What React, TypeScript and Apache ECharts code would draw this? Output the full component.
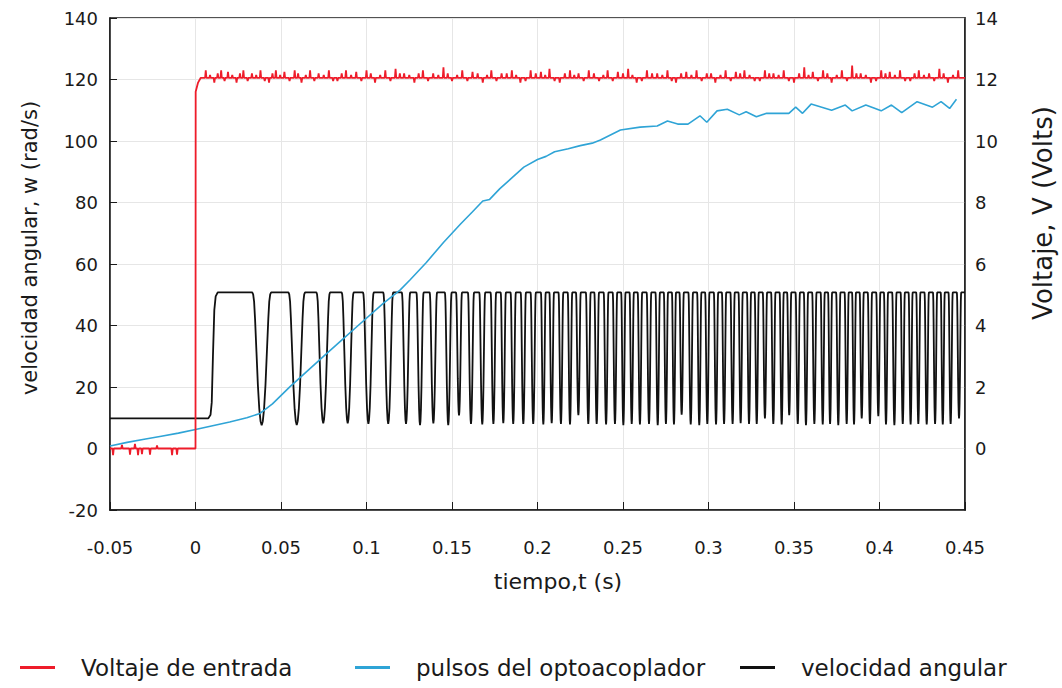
import React, { useEffect, useRef } from 'react';
import * as echarts from 'echarts';

// ---------- data ----------
const xMin = -0.05;
const xMax = 0.45;
const xStep = 0.05;
const leftMin = -20;
const leftMax = 140;
const leftStep = 20;
const rightMin = -2;
const rightMax = 14;
const rightStep = 2;

const legendNames = ['Voltaje de entrada', 'pulsos del optoacoplador', 'velocidad angular'];

// blue curve (left axis, rad/s)
const blueT = [
  -0.05, -0.04, -0.03, -0.02, -0.01, 0, 0.01, 0.02, 0.03, 0.0377, 0.045, 0.0553, 0.065, 0.0747,
  0.085, 0.0943, 0.1098, 0.1196, 0.1254, 0.135, 0.145, 0.155, 0.162, 0.168, 0.172, 0.178, 0.185,
  0.192, 0.2, 0.205, 0.21, 0.218, 0.225, 0.232, 0.2368, 0.2485, 0.26, 0.27, 0.276, 0.282, 0.288,
  0.295, 0.299, 0.305, 0.311, 0.318, 0.322, 0.328, 0.334, 0.347, 0.351, 0.355, 0.36, 0.372, 0.38,
  0.384, 0.392, 0.401, 0.407, 0.413, 0.422, 0.431, 0.436, 0.441, 0.445,
];
const blueV = [
  0.8, 2.0, 3.0, 4.0, 5.0, 6.2, 7.4, 8.6, 10.0, 11.4, 14.5, 20.1, 25.0, 29.9,
  35.0, 39.6, 47.2, 51.5, 54.8, 60.5, 67.0, 73.0, 77.0, 80.5, 81.0, 84.5, 88.0,
  91.5, 94.0, 95.0, 96.5, 97.5, 98.5, 99.3, 100.3, 103.6, 104.5, 104.9, 106.5, 105.5, 105.5,
  108.2, 106.1, 109.8, 110.3, 108.5, 109.5, 107.9, 109.0, 109.0, 111.0, 109.0, 112.0, 110.0, 111.7,
  109.8, 111.7, 109.8, 111.7, 109.2, 112.8, 111.0, 112.8, 110.6, 113.6,
];

// black pulse train (right axis, volts)
const blackBase = 0.98;
const blackHigh = 5.08;
const blackRiseT = [0.0075, 0.0088, 0.0095, 0.0102, 0.011, 0.0118, 0.013];
const blackRiseV = [0.98, 1.1, 1.5, 3.0, 4.5, 4.95, 5.08];
const dipT = [
  0.0387, 0.0592, 0.0747, 0.089, 0.1011, 0.1127, 0.1231, 0.1313, 0.1391, 0.1478,
  0.1541, 0.1611, 0.1677, 0.1742, 0.18, 0.1858, 0.1917, 0.1975, 0.2034, 0.2083,
  0.2137, 0.219, 0.2239, 0.2297, 0.2346, 0.2401, 0.2453, 0.2502, 0.2551, 0.2599,
  0.2652, 0.2703, 0.2751, 0.2798, 0.2843, 0.2896, 0.2946, 0.2993, 0.3044, 0.3091,
  0.3141, 0.3188, 0.3237, 0.3282, 0.333, 0.3379, 0.3428, 0.3472, 0.3522, 0.357,
  0.3619, 0.3668, 0.3711, 0.3759, 0.3808, 0.3851, 0.3896, 0.3944, 0.3993, 0.4038,
  0.4087, 0.4136, 0.4182, 0.4227, 0.4276, 0.4325, 0.437, 0.4416, 0.4465,
];
const dipMin = [
  0.76, 0.76, 0.82, 0.82, 0.8, 0.8, 0.8, 0.76, 0.82, 0.76,
  1.08, 0.8, 0.78, 0.8, 0.82, 0.8, 0.8, 0.8, 0.78, 0.82,
  0.8, 0.78, 1.08, 0.8, 0.8, 0.78, 0.8, 0.76, 0.8, 0.78,
  0.8, 0.76, 0.8, 0.78, 1.1, 0.78, 0.76, 0.8, 0.78, 0.8,
  0.8, 0.82, 0.8, 0.8, 0.98, 0.8, 0.78, 1.08, 0.8, 0.76,
  0.8, 0.78, 0.8, 0.76, 0.8, 0.78, 0.98, 0.8, 1.05, 0.78,
  0.76, 0.8, 0.78, 0.8, 0.78, 0.8, 0.78, 0.8, 0.98,
];

// red input voltage (right axis, volts)
const redLow = 0;
const redHigh = 12.05;
const redPreSpikeT = [-0.0482, -0.043, -0.0383, -0.0354, -0.0336, -0.0313, -0.0266, -0.0225, -0.0137, -0.0108];
const redPreSpikeV = [-0.22, 0.12, -0.2, 0.15, -0.22, -0.18, -0.2, 0.1, -0.22, -0.2];
const redStepT = [0, 0.0001, 0.0015, 0.003];
const redStepV = [0, 11.6, 11.9, 12.05];
const redSpikeT = [
  0.006, 0.0085, 0.011, 0.013, 0.015, 0.017, 0.019, 0.0215, 0.024, 0.026, 0.028, 0.0305, 0.033, 0.0355,
  0.038, 0.0405, 0.043, 0.045, 0.047, 0.0495, 0.052, 0.055, 0.058, 0.060, 0.062, 0.0645, 0.067, 0.0695,
  0.072, 0.075, 0.078, 0.0805, 0.083, 0.0855, 0.088, 0.091, 0.094, 0.097, 0.1, 0.1025, 0.105, 0.108,
  0.111, 0.114, 0.117, 0.1195, 0.122, 0.125, 0.128, 0.1305, 0.133, 0.136, 0.139, 0.142, 0.145, 0.1475,
  0.15, 0.153, 0.156, 0.159, 0.162, 0.165, 0.168, 0.1705, 0.173, 0.176, 0.179, 0.182, 0.185, 0.1875,
  0.19, 0.193, 0.196, 0.199, 0.202, 0.2045, 0.207, 0.21, 0.213, 0.216, 0.219, 0.2215, 0.224, 0.227,
  0.23, 0.233, 0.236, 0.2385, 0.241, 0.244, 0.247, 0.25, 0.253, 0.2555, 0.258, 0.261, 0.264, 0.267,
  0.27, 0.273, 0.276, 0.2785, 0.281, 0.284, 0.287, 0.29, 0.293, 0.296, 0.299, 0.3015, 0.304, 0.307,
  0.31, 0.313, 0.316, 0.3185, 0.321, 0.324, 0.327, 0.33, 0.333, 0.3355, 0.338, 0.341, 0.344, 0.347,
  0.35, 0.353, 0.356, 0.3585, 0.361, 0.364, 0.367, 0.3695, 0.372, 0.375, 0.378, 0.381, 0.384, 0.3865,
  0.389, 0.392, 0.395, 0.398, 0.401, 0.4035, 0.406, 0.409, 0.412, 0.415, 0.418, 0.4205, 0.423, 0.426,
  0.429, 0.432, 0.435, 0.4375, 0.44, 0.443, 0.446,
];
const redSpikeV = [
  12.3, 12.15, 11.9, 12.2, 12.3, 11.95, 12.25, 12.15, 11.9, 12.2, 12.3, 11.95, 12.2, 12.15,
  12.3, 11.95, 11.9, 12.2, 12.3, 12.15, 12.25, 11.95, 12.3, 12.2, 11.9, 12.15, 12.3, 11.95,
  12.2, 12.15, 12.3, 11.95, 11.95, 12.2, 12.3, 12.15, 12.25, 11.95, 12.3, 12.2, 11.9, 12.15,
  12.3, 11.95, 12.35, 12.2, 12.2, 12.15, 11.9, 12.2, 12.3, 11.95, 12.2, 12.15, 12.4, 12.2,
  11.95, 12.15, 12.3, 11.95, 12.25, 12.2, 11.9, 12.15, 12.3, 11.95, 12.2, 12.2, 12.3, 12.15,
  11.9, 11.95, 12.3, 12.2, 12.25, 12.15, 12.35, 11.95, 11.9, 12.2, 12.3, 12.15, 12.2, 11.95,
  12.3, 12.2, 11.95, 12.15, 12.3, 11.95, 12.25, 12.2, 12.35, 12.15, 11.9, 11.95, 12.3, 12.2,
  12.2, 12.15, 12.3, 11.95, 11.9, 12.2, 12.25, 12.15, 12.3, 11.95, 12.2, 12.2, 11.9, 12.15,
  12.3, 11.95, 12.25, 12.2, 12.3, 12.15, 11.95, 11.95, 12.3, 12.2, 12.2, 12.15, 12.3, 11.95,
  11.9, 12.2, 12.4, 12.15, 12.25, 11.95, 12.3, 12.2, 11.9, 12.15, 12.3, 11.95, 12.45, 12.2,
  12.2, 12.15, 11.9, 11.95, 12.3, 12.2, 12.25, 12.15, 12.3, 11.95, 11.95, 12.2, 12.3, 12.15,
  12.2, 11.95, 12.35, 12.2, 11.9, 12.15, 12.3,
];

// ---------- shape helpers (style only) ----------
const DIP_PROFILE: [number, number][] = [
  [-1, 1], [-0.9, 0.985], [-0.8, 0.93], [-0.7, 0.8], [-0.55, 0.55], [-0.4, 0.3], [-0.25, 0.12], [-0.12, 0.03],
  [0, 0], [0.12, 0.03], [0.25, 0.12], [0.4, 0.3], [0.55, 0.55], [0.7, 0.8], [0.8, 0.93], [0.9, 0.985], [1, 1],
];
const DIP_WIDTH_FACTOR = 0.27;
const SPIKE_HALF = 0.0004;

function buildBlack(): number[][] {
  const pts: number[][] = [[xMin, blackBase]];
  blackRiseT.forEach((t, i) => pts.push([t, blackRiseV[i]]));
  const n = dipT.length;
  for (let i = 0; i < n; i++) {
    const c = dipT[i];
    const spacing = i === 0 ? dipT[1] - dipT[0] : i === n - 1 ? dipT[n - 1] - dipT[n - 2] : (dipT[i + 1] - dipT[i - 1]) / 2;
    const hw = spacing * DIP_WIDTH_FACTOR;
    const lo = dipMin[i];
    for (const [u, f] of DIP_PROFILE) {
      const t = c + u * hw;
      if (t > xMax) break;
      pts.push([t, lo + f * (blackHigh - lo)]);
    }
  }
  pts.push([xMax, blackHigh]);
  return pts;
}

function buildRed(): number[][] {
  const pts: number[][] = [[xMin, redLow]];
  redPreSpikeT.forEach((t, i) => {
    pts.push([t - SPIKE_HALF, redLow], [t, redPreSpikeV[i]], [t + SPIKE_HALF, redLow]);
  });
  redStepT.forEach((t, i) => pts.push([t, redStepV[i]]));
  redSpikeT.forEach((t, i) => {
    pts.push([t - SPIKE_HALF, redHigh], [t, redSpikeV[i]], [t + SPIKE_HALF, redHigh]);
  });
  pts.push([xMax, redHigh]);
  return pts;
}

const FONT = '"DejaVu Sans", Verdana, sans-serif';
const TEXT = '#1a1a1a';

const legendLefts = [15, 350, 735];

export default function App() {
  const ref = useRef<HTMLDivElement>(null);
  useEffect(() => {
    document.body.style.margin = '0';
    if (!ref.current) return;
    const chart = echarts.init(ref.current, undefined, { renderer: 'svg' });
    const blue = blueT.map((t, i) => [t, blueV[i]]);
    chart.setOption({
      animation: false,
      backgroundColor: '#ffffff',
      textStyle: { fontFamily: FONT },
      grid: {
        left: 110, right: 97, top: 18, bottom: 178,
        show: true, borderColor: '#1a1a1a', borderWidth: 1.5, backgroundColor: 'transparent',
      },
      legend: legendNames.map((name, i) => ({
        data: [name],
        left: legendLefts[i],
        top: 651,
        icon: 'rect',
        itemWidth: 35,
        itemHeight: 3,
        textStyle: { fontSize: 23, color: TEXT, fontFamily: FONT, padding: [0, 0, 0, 21] },
      })),
      xAxis: {
        type: 'value',
        min: xMin, max: xMax, interval: xStep,
        axisLine: { show: true, onZero: false, lineStyle: { color: '#1a1a1a', width: 1.5 } },
        axisTick: { show: true, inside: true, length: 8, lineStyle: { color: '#1a1a1a' } },
        axisLabel: {
          fontSize: 18, color: TEXT, margin: 28, fontFamily: FONT,
          formatter: (v: number) => String(parseFloat(v.toFixed(2))),
        },
        splitLine: { show: true, lineStyle: { color: '#e6e6e6', width: 1 } },
      },
      yAxis: [
        {
          type: 'value',
          min: leftMin, max: leftMax, interval: leftStep,
          axisLine: { show: true, onZero: false, lineStyle: { color: '#1a1a1a', width: 1.5 } },
          axisTick: { show: true, inside: true, length: 7, lineStyle: { color: '#1a1a1a' } },
          axisLabel: { fontSize: 18, color: TEXT, margin: 12, fontFamily: FONT },
          splitLine: { show: true, lineStyle: { color: '#e6e6e6', width: 1 } },
        },
        {
          type: 'value',
          position: 'right',
          min: rightMin, max: rightMax, interval: rightStep,
          axisLine: { show: true, onZero: false, lineStyle: { color: '#1a1a1a', width: 1.5 } },
          axisTick: { show: false },
          axisLabel: {
            fontSize: 18, color: TEXT, margin: 10, fontFamily: FONT,
            formatter: (v: number) => (v === rightMin ? '' : String(v)),
          },
          splitLine: { show: false },
        },
      ],
      graphic: [
        {
          type: 'text', x: 30, y: 248, rotation: Math.PI / 2,
          style: { text: 'velocidad angular, w (rad/s)', fontSize: 21, fontFamily: FONT, fill: TEXT, align: 'center', verticalAlign: 'middle' },
        },
        {
          type: 'text', x: 1043, y: 213, rotation: Math.PI / 2,
          style: { text: 'Voltaje, V (Volts)', fontSize: 26, fontFamily: FONT, fill: TEXT, align: 'center', verticalAlign: 'middle' },
        },
        {
          type: 'text', x: 558, y: 581,
          style: { text: 'tiempo,t (s)', fontSize: 22, fontFamily: FONT, fill: TEXT, align: 'center', verticalAlign: 'middle' },
        },
      ],
      series: [
        {
          name: 'velocidad angular', type: 'line', yAxisIndex: 1, data: buildBlack(),
          showSymbol: false, symbol: 'none', color: '#111111',
          lineStyle: { color: '#111111', width: 1.8 },
        },
        {
          name: 'pulsos del optoacoplador', type: 'line', yAxisIndex: 0, data: blue,
          showSymbol: false, symbol: 'none', color: '#2fa4d6',
          lineStyle: { color: '#2fa4d6', width: 1.6 },
        },
        {
          name: 'Voltaje de entrada', type: 'line', yAxisIndex: 1, data: buildRed(),
          showSymbol: false, symbol: 'none', color: '#ee1c2a',
          lineStyle: { color: '#ee1c2a', width: 1.8 },
        },
      ],
    });
    return () => chart.dispose();
  }, []);
  return <div ref={ref} style={{ width: 1062, height: 688 }} />;
}
